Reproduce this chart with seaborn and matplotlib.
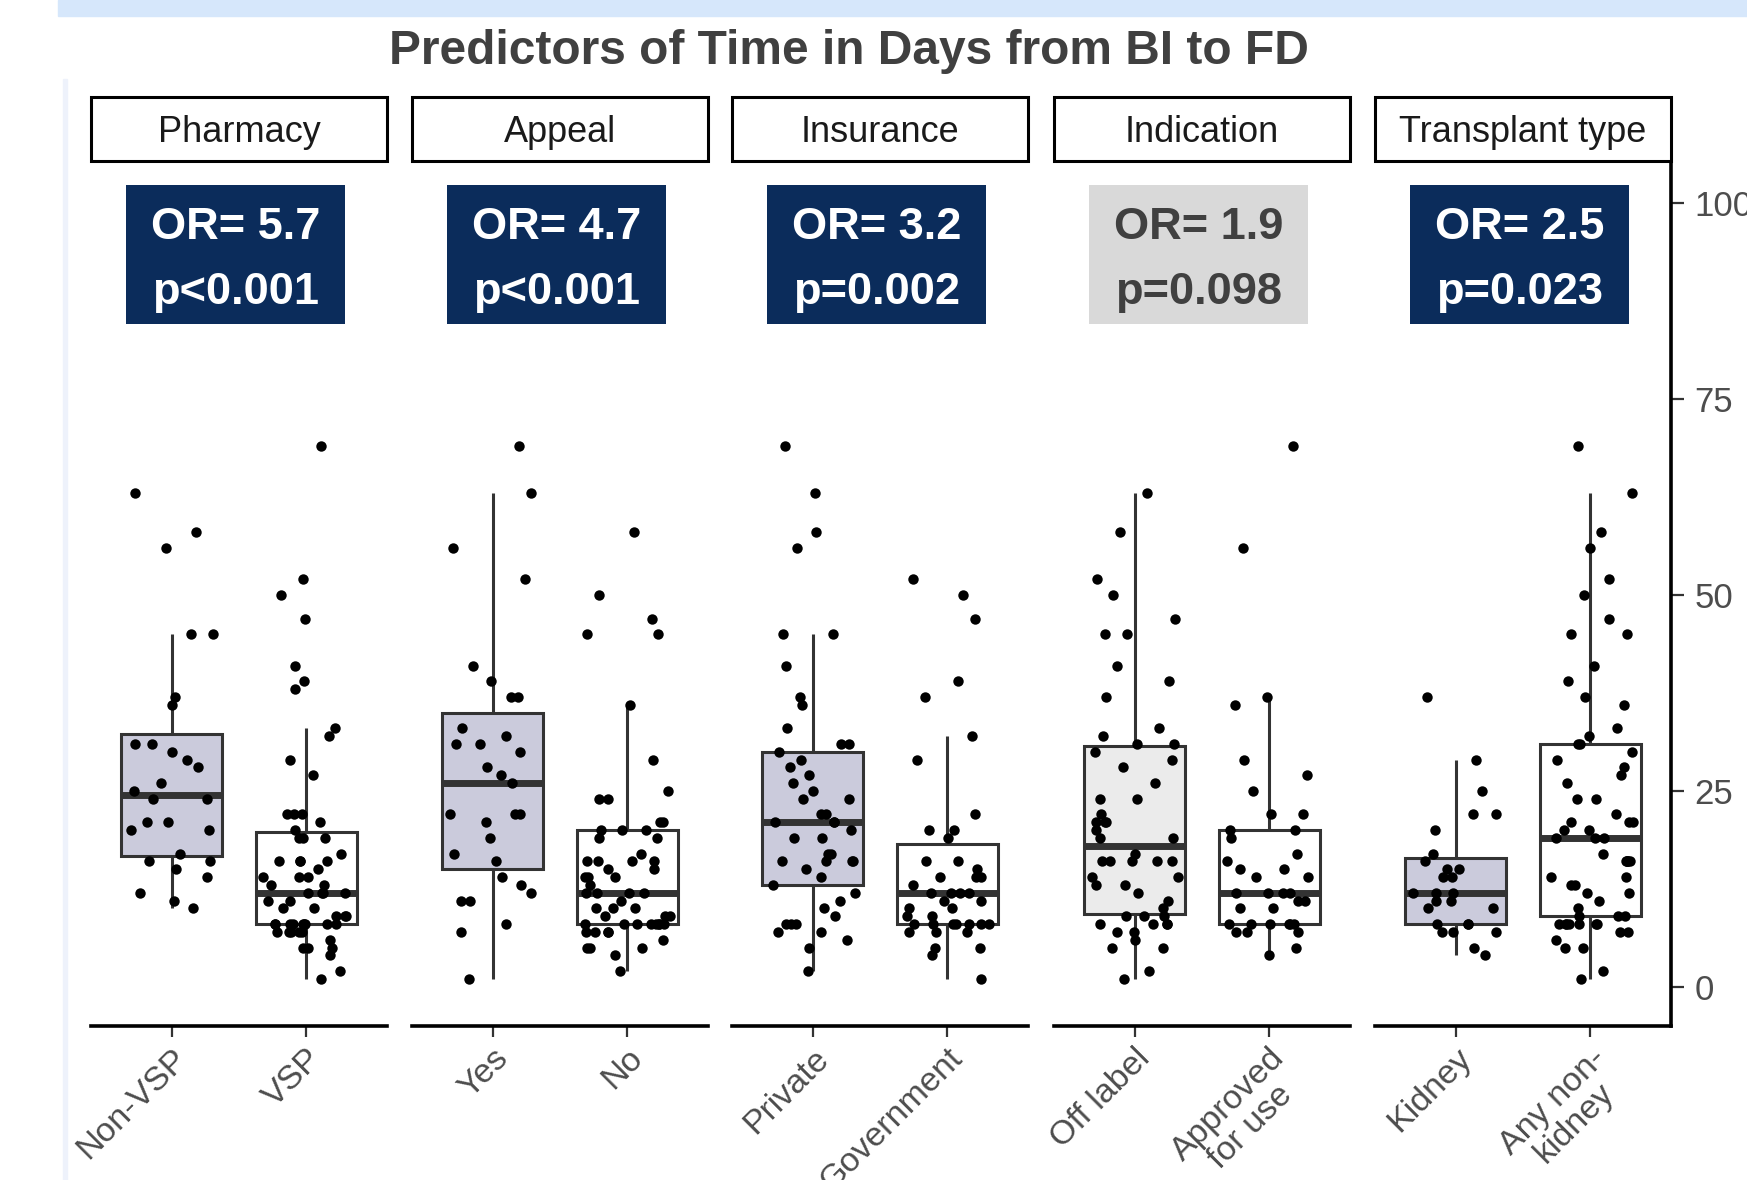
import numpy as np
import pandas as pd
import matplotlib.pyplot as plt
from matplotlib.patches import Rectangle
import seaborn as sns

# facet panels, categories and the stats printed in the boxes
facets = ['Pharmacy', 'Appeal', 'Insurance', 'Indication', 'Transplant type']
groups = [['Non-VSP', 'VSP'], ['Yes', 'No'], ['Private', 'Government'],
          ['Off label', 'Approved\nfor use'], ['Kidney', 'Any non-\nkidney']]
odds_ratios = ['OR= 5.7', 'OR= 4.7', 'OR= 3.2', 'OR= 1.9', 'OR= 2.5']
p_values = ['p<0.001', 'p<0.001', 'p=0.002', 'p=0.098', 'p=0.023']
significant = [True, True, True, False, True]

# days from BI to FD
non_vsp = [63, 58, 56, 45, 45, 37, 36, 31, 31, 30, 29, 28, 26, 25, 24, 24, 21, 21,
           20, 20, 17, 16, 16, 15, 14, 12, 11, 10]
vsp = [69, 52, 50, 47, 41, 39, 38, 33, 32, 29, 27, 22, 22, 22, 21, 20, 19, 19, 19,
       17, 16, 16, 16, 16, 15, 14, 14, 14, 13, 13, 12, 12, 12, 12, 11, 11, 10, 10,
       9, 9, 9, 8, 8, 8, 8, 8, 8, 8, 8, 8, 7, 7, 7, 7, 7, 6, 5, 5, 5, 4, 2, 1]
appeal_yes = [69, 63, 56, 52, 41, 39, 37, 37, 33, 32, 31, 31, 30, 28, 27, 26, 22, 22,
              22, 21, 19, 17, 16, 14, 13, 12, 11, 11, 8, 7, 1]
appeal_no = [58, 50, 47, 45, 45, 36, 29, 25, 24, 24, 21, 21, 20, 20, 20, 19, 19, 17,
             16, 16, 16, 16, 15, 15, 14, 14, 14, 13, 12, 12, 12, 12, 11, 10, 10, 10,
             9, 9, 9, 8, 8, 8, 8, 8, 8, 8, 8, 7, 7, 7, 7, 6, 5, 5, 5, 4, 2]
private = [69, 63, 58, 56, 45, 45, 41, 37, 36, 33, 31, 31, 30, 29, 28, 27, 26, 25,
           24, 24, 22, 22, 21, 21, 21, 20, 19, 19, 17, 17, 16, 16, 16, 16, 15, 14,
           13, 12, 11, 10, 9, 8, 8, 8, 7, 7, 6, 5, 2]
government = [52, 50, 47, 39, 37, 32, 29, 22, 20, 20, 19, 16, 16, 15, 14, 14, 14, 13,
              12, 12, 12, 12, 11, 11, 10, 10, 9, 9, 8, 8, 8, 8, 8, 8, 8, 7, 7, 7,
              5, 5, 4, 1]
off_label = [63, 58, 52, 50, 47, 45, 45, 41, 39, 37, 33, 32, 31, 31, 30, 29, 28, 26,
             24, 24, 22, 21, 21, 21, 20, 19, 19, 17, 16, 16, 16, 16, 16, 14, 14, 13,
             13, 12, 11, 10, 9, 9, 9, 8, 8, 8, 8, 7, 7, 6, 5, 5, 2, 1]
approved = [69, 56, 37, 36, 29, 27, 25, 22, 22, 20, 20, 19, 17, 16, 15, 15, 14, 14,
            12, 12, 12, 12, 11, 11, 10, 10, 8, 8, 8, 8, 8, 8, 7, 7, 7, 5, 4]
kidney = [37, 29, 25, 22, 22, 20, 17, 16, 15, 15, 14, 14, 12, 12, 12, 11, 11, 10, 10,
          8, 8, 8, 7, 7, 7, 5, 4]
non_kidney = [69, 63, 58, 56, 52, 50, 47, 45, 45, 41, 39, 37, 36, 33, 32, 31, 31, 30,
              29, 28, 27, 26, 24, 24, 22, 21, 21, 21, 20, 20, 19, 19, 19, 17, 16, 16,
              16, 16, 16, 14, 14, 13, 13, 12, 12, 11, 10, 9, 9, 9, 8, 8, 8, 8, 8, 8,
              8, 7, 7, 6, 5, 5, 2, 1]

values = [[non_vsp, vsp], [appeal_yes, appeal_no], [private, government],
          [off_label, approved], [kidney, non_kidney]]

rows = []
for f, grp, vals in zip(facets, groups, values):
    for g, v in zip(grp, vals):
        for d in v:
            rows.append({'facet': f, 'group': g, 'days': d})
df = pd.DataFrame(rows)

sns.set_theme(style='white')
plt.rcParams['font.family'] = ['Liberation Sans', 'DejaVu Sans']

fig = plt.figure(figsize=(17.47, 11.8), dpi=100)

# light banner and left rule from the slide
fig.patches.append(Rectangle((58 / 1747, 1 - 16 / 1180), 1, 16 / 1180,
                             transform=fig.transFigure, color='#d6e7fb', zorder=0))
fig.patches.append(Rectangle((63 / 1747, 0), 4 / 1747, 1 - 79 / 1180,
                             transform=fig.transFigure, color='#eef2fb', zorder=0))

fig.text(849 / 1747, 1 - 52 / 1180, 'Predictors of Time in Days from BI to FD',
         ha='center', va='center', fontsize=34.5, fontweight='bold', color='#404040')

lefts = [91, 412, 732, 1054, 1375]
np.random.seed(7)

for i, f in enumerate(facets):
    ax = fig.add_axes([lefts[i] / 1747, 1 - 1026 / 1180, 296 / 1747, 862 / 1180])
    sub = df[df['facet'] == f]
    first_fill = '#c8c8df' if significant[i] else '#ebebeb'
    sns.boxplot(data=sub, x='group', y='days', order=groups[i], hue='group',
                hue_order=groups[i], palette=[first_fill, 'white'], width=0.75,
                showfliers=False, showcaps=False, linecolor='#333333', linewidth=2.2,
                medianprops={'linewidth': 5, 'color': '#333333'}, legend=False, ax=ax)
    sns.stripplot(data=sub, x='group', y='days', order=groups[i], color='black',
                  size=7.5, jitter=0.32, linewidth=0, ax=ax, zorder=3)

    ax.set_xlim(-0.6, 1.6)
    ax.set_ylim(-5, 105)
    ax.set_xlabel('')
    ax.set_ylabel('')
    ax.set_facecolor('none')
    for s in ['top', 'left', 'right']:
        ax.spines[s].set_visible(False)
    ax.spines['bottom'].set_color('black')
    ax.spines['bottom'].set_linewidth(2.6)

    ax.set_xticks(range(2), groups[i], rotation=45, ha='right', va='top',
                  rotation_mode='anchor')
    for lbl in ax.get_xticklabels():
        lbl.set_multialignment('center')
        lbl.set_linespacing(1.0)
    ax.tick_params(axis='x', bottom=True, length=8, width=1.6, color='#333333',
                   labelsize=24.5, labelcolor='#4d4d4d', pad=4)

    if i == len(facets) - 1:
        ax.spines['right'].set_visible(True)
        ax.spines['right'].set_color('black')
        ax.spines['right'].set_linewidth(2.6)
        ax.yaxis.tick_right()
        ax.set_yticks([0, 25, 50, 75, 100])
        ax.tick_params(axis='y', right=True, left=False, length=9, width=1.6,
                       color='#333333', labelsize=25, labelcolor='#4d4d4d', pad=8)
    else:
        ax.set_yticks([])

    # facet strip
    ax.add_patch(Rectangle((0, 1.003), 1, 0.075, transform=ax.transAxes,
                           facecolor='white', edgecolor='black', linewidth=2.2,
                           clip_on=False))
    ax.text(0.5, 1.037, f, transform=ax.transAxes, ha='center', va='center',
            fontsize=26, color='#1a1a1a')

    # odds ratio box
    box_color = '#0b2c5b' if significant[i] else '#d9d9d9'
    text_color = 'white' if significant[i] else '#404040'
    ax.add_patch(Rectangle((-0.34, 84.6), 1.63, 17.7, facecolor=box_color,
                           edgecolor='none', zorder=4))
    ax.text(0.475, 92.8, odds_ratios[i] + '\n' + p_values[i], ha='center',
            va='center', fontsize=32.5, fontweight='bold', color=text_color,
            linespacing=1.75, zorder=5)

fig.savefig('out.png', dpi=100)
